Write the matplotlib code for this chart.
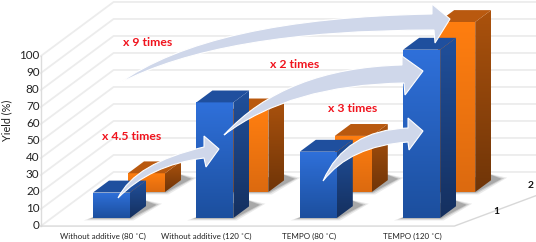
import numpy as np
import matplotlib
matplotlib.use("Agg")
import matplotlib.pyplot as plt
from matplotlib.patches import Polygon, PathPatch
from matplotlib.path import Path
from matplotlib.colors import LinearSegmentedColormap as LSC

categories = ["Without additive (80 ˚C)", "Without additive (120 ˚C)", "TEMPO (80 ˚C)", "TEMPO (120 ˚C)"]
series_1 = [15, 68, 39, 99]
series_2 = [11, 48, 33, 100]
y_ticks = list(range(0, 101, 10))
depth_labels = ["1", "2"]
callouts = ["x 4.5 times", "x 9 times", "x 2 times", "x 3 times"]

plt.rcParams['font.family'] = ['Lato', 'DejaVu Sans']
W, H = 536, 242
fig = plt.figure(figsize=(W/100, H/100), dpi=100)
ax = fig.add_axes([0, 0, 1, 1])


def proj(c, d, v):
    """category index, depth index, yield -> screen position"""
    return (93 + 103.4*c + 35*d, 218 - 26*d - 1.7*v)


bw, bd = 37/103.4, 16/35
GRID = '#ececec'
# walls
for v in y_ticks:
    p0 = proj(-0.4, -0.31, v)
    p1 = proj(-0.4, 1.77, v)
    p2 = proj(4.2, 1.77, v)
    ax.plot([p0[0], p1[0], p2[0]], [p0[1], p1[1], p2[1]], color=GRID, lw=1.3, zorder=1,
            solid_joinstyle='miter')
p0, p1 = proj(-0.4, -0.31, 0), proj(-0.4, -0.31, 100)
ax.plot([p0[0], p1[0]], [p0[1], p1[1]], color='#dcdcdc', lw=1, zorder=1)
f0, f1, f2 = proj(-0.4, -0.31, 0), proj(3.6, -0.31, 0), proj(4.3, 1.77, 0)
ax.plot([f0[0], f1[0], f2[0]], [f0[1], f1[1], f2[1]], color='#d8d8d8', lw=1, zorder=1)

for v in y_ticks:
    ax.text(39.5, proj(0, -0.31, v)[1] - 1, str(v), ha='right', va='center', fontsize=8.4, color='#222222')
ax.text(7, 120, "Yield (%)", rotation=90, ha='center', va='center', fontsize=7.8, color='#222222')
for i, c in enumerate(categories):
    ax.text(proj(i, 0, 0)[0] + 10 - i*0.3, 236, c, ha='center', va='center', fontsize=5.8, color='#222222')
ax.text(496, 212, depth_labels[0], ha='center', va='center', fontsize=7.5, fontweight='bold', color='#111111')
ax.text(531, 185, depth_labels[1], ha='center', va='center', fontsize=7.5, fontweight='bold', color='#111111')


def grad(pts, c_top, c_bot, z):
    cm = LSC.from_list('g', [c_top, c_bot])
    pts = np.array(pts)
    patch = Polygon(pts, closed=True, fc='none', ec='none', transform=ax.transData)
    ax.add_patch(patch)
    im = ax.imshow(np.linspace(0, 1, 64)[:, None], cmap=cm, aspect='auto',
                   extent=[pts[:, 0].min(), pts[:, 0].max(), pts[:, 1].max(), pts[:, 1].min()],
                   zorder=z, interpolation='bilinear')
    im.set_clip_path(patch)


def bar(c, d, v, cols, z):
    a = proj(c, d, 0); b = proj(c + bw, d, 0)
    e = proj(c, d, v); f = proj(c + bw, d, v)
    g = proj(c + bw, d + bd, v); h = proj(c + bw, d + bd, 0); k = proj(c, d + bd, v)
    # soft shadow on the floor
    for grow, al in [(7, .12), (4, .2), (1.5, .3)]:
        ax.add_patch(Polygon([(a[0]-1-grow*1.2, a[1]+grow*.35), (b[0]+grow*.5, b[1]+grow*.35),
                              (h[0]+9+grow, h[1]-1-grow*.2), (h[0]-5, h[1]-7)],
                             closed=True, fc='#555555', ec='none', alpha=al, zorder=z-0.5))
    grad([e, f, b, a], cols[0], cols[1], z)
    grad([f, g, h, b], cols[2], cols[3], z)
    ax.add_patch(Polygon([e, f, g, k], closed=True, fc=cols[4], ec='none', zorder=z))


blue = ('#2f70da', '#1c4f9e', '#20509c', '#15305f', '#1f4f9e')
orange = ('#ff7e0f', '#dc6a10', '#ab520d', '#703508', '#b9590f')
for i, v in enumerate(series_2):
    bar(i, 1, v, orange, 3 + i*0.01)
for i, v in enumerate(series_1):
    bar(i, 0, v, blue, 4 + i*0.01)

# curved callout arrows: tail, top ctrl, shaft top, head top, tip, head bottom, shaft bottom, low ctrl
arrows = [
    [(118, 198), (135, 163), (204, 147), (204, 136), (219, 149), (206, 167), (204, 158), (150, 165)],
    [(118, 84), (210, 18), (432, 14), (432, 4), (450, 19), (435, 43), (434, 30), (220, 30)],
    [(224, 135), (285, 68), (402, 65), (402, 56), (423, 71), (405, 95), (404, 83), (290, 85)],
    [(323, 181), (345, 130), (408, 128), (408, 118), (423, 131), (409, 150), (408, 142), (350, 146)],
]
for t, c1, s1, h1, tip, h2, s2, c2 in arrows:
    verts = [t, c1, s1, h1, tip, h2, s2, c2, t, t]
    codes = [Path.MOVETO, Path.CURVE3, Path.CURVE3, Path.LINETO, Path.LINETO, Path.LINETO,
             Path.LINETO, Path.CURVE3, Path.CURVE3, Path.CLOSEPOLY]
    ax.add_patch(PathPatch(Path(verts, codes), fc='#cfd7ea', ec='white', lw=0.8, zorder=6))

call_pos = [(132, 137), (148, 43), (295, 64.5), (353, 108)]
for s, (x, y) in zip(callouts, call_pos):
    ax.text(x, y, s, ha='center', va='center', color='#f0141e', fontsize=8.8, fontweight='bold', zorder=7)

ax.set_xlim(0, W)
ax.set_ylim(H, 0)
ax.axis('off')
fig.savefig('out.png', dpi=100, facecolor='white')
